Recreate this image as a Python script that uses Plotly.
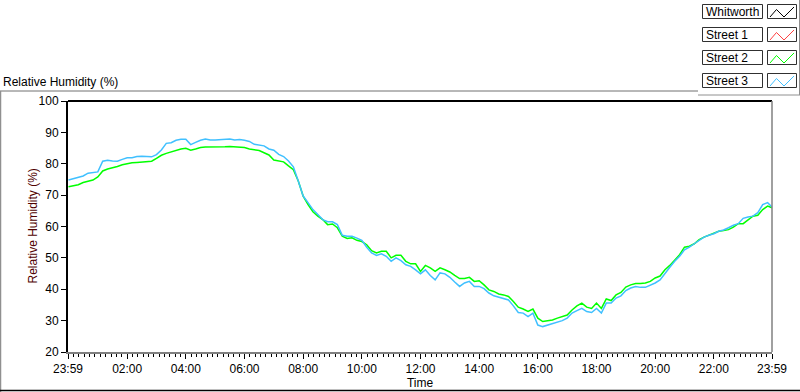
import pandas as pd
import plotly.graph_objects as go

# ---- data -------------------------------------------------------------
series_names = ["Whitworth", "Street 1", "Street 2", "Street 3"]
series_colors = ["#000000", "#ff4040", "#00ff00", "#40c0ff"]

# sample times: every 10 minutes from 00:00, plus the final 23:59 sample
sample_times = list(pd.date_range("2021-06-02 00:00", "2021-06-02 23:50", freq="10min")) + [pd.Timestamp("2021-06-02 23:59")]

whitworth = []
street_1 = []
street_2 = [
    72.7, 72.9, 73.3, 74.0, 74.4, 74.8, 75.8, 77.7, 78.3, 78.6,
    79.1, 79.7, 80.1, 80.3, 80.4, 80.5, 80.6, 80.8, 81.7, 82.7,
    83.3, 83.8, 84.2, 84.7, 84.9, 84.3, 84.7, 85.2, 85.3, 85.3,
    85.4, 85.2, 85.4, 85.5, 85.4, 85.3, 85.2, 84.7, 84.4, 84.2,
    83.5, 82.8, 81.2, 80.9, 80.6, 79.3, 78.1, 74.5, 69.7, 67.0,
    64.7, 63.3, 62.2, 60.6, 60.8, 59.6, 56.9, 56.2, 56.4, 55.6,
    55.2, 54.2, 52.3, 51.6, 52.1, 52.1, 50.0, 50.8, 50.8, 48.9,
    48.1, 48.1, 45.7, 47.6, 46.8, 45.7, 46.8, 46.2, 45.5, 44.4,
    43.4, 43.4, 43.8, 42.5, 42.7, 41.4, 39.8, 39.3, 38.5, 38.2,
    37.7, 36.1, 34.3, 33.7, 32.9, 33.7, 30.8, 29.7, 30.0, 30.2,
    30.8, 31.3, 31.8, 33.4, 34.7, 35.6, 34.3, 33.9, 35.6, 33.9,
    36.9, 36.4, 38.2, 39.0, 40.7, 41.4, 41.8, 41.8, 42.0, 42.5,
    43.6, 44.2, 46.2, 47.6, 49.4, 51.0, 53.4, 53.7, 54.5, 55.8,
    56.6, 57.2, 57.7, 58.5, 58.7, 59.0, 59.8, 60.9, 60.9, 62.2,
    63.3, 63.6, 65.4, 66.5, 66.0,
]
street_3 = [
    74.8, 75.3, 75.8, 76.1, 77.0, 77.2, 77.4, 80.8, 81.1, 80.9,
    80.8, 81.4, 81.9, 81.9, 82.3, 82.4, 82.2, 82.2, 82.9, 84.4,
    86.5, 86.7, 87.5, 87.8, 87.8, 86.1, 86.8, 87.5, 87.9, 87.6,
    87.6, 87.7, 87.7, 87.9, 87.6, 87.7, 87.5, 87.1, 86.2, 86.0,
    85.7, 84.7, 84.3, 83.0, 82.3, 80.9, 79.0, 74.5, 69.7, 67.6,
    65.4, 63.8, 62.2, 61.5, 61.5, 60.6, 57.2, 56.9, 56.9, 56.3,
    55.6, 53.4, 51.6, 50.8, 51.3, 50.5, 48.9, 50.0, 49.1, 47.8,
    47.3, 46.2, 44.9, 46.2, 44.4, 43.0, 45.2, 44.9, 43.8, 42.3,
    40.9, 42.0, 42.5, 40.9, 40.9, 40.2, 38.8, 37.9, 37.5, 37.2,
    36.6, 34.7, 32.6, 32.4, 31.3, 32.4, 28.6, 28.1, 28.6, 28.9,
    29.4, 30.0, 30.8, 32.4, 33.2, 33.9, 32.9, 32.6, 33.9, 32.4,
    35.6, 35.6, 37.2, 37.9, 39.6, 40.4, 40.9, 40.6, 40.6, 41.2,
    42.0, 43.0, 45.2, 47.0, 48.9, 50.5, 52.6, 53.4, 54.5, 55.5,
    56.6, 57.2, 57.7, 58.5, 58.9, 59.6, 60.4, 60.9, 62.6, 63.0,
    63.3, 64.4, 67.0, 67.6, 66.2,
]

x_start = "2021-06-01 23:59"
x_end = "2021-06-02 23:59"
x_tick_vals = ["2021-06-01 23:59", "2021-06-02 02:00", "2021-06-02 04:00", "2021-06-02 06:00",
               "2021-06-02 08:00", "2021-06-02 10:00", "2021-06-02 12:00", "2021-06-02 14:00",
               "2021-06-02 16:00", "2021-06-02 18:00", "2021-06-02 20:00", "2021-06-02 22:00",
               "2021-06-02 23:59"]
x_tick_text = ["23:59", "02:00", "04:00", "06:00", "08:00", "10:00", "12:00", "14:00",
               "16:00", "18:00", "20:00", "22:00", "23:59"]
minor_per_major = 10
y_tick_vals = [20, 30, 40, 50, 60, 70, 80, 90, 100]

# minor ticks: evenly divide each major interval
_maj = [pd.Timestamp(v) for v in x_tick_vals]
x_minor_vals = []
for a, b in zip(_maj[:-1], _maj[1:]):
    step = (b - a) / (minor_per_major + 1)
    for k in range(1, minor_per_major + 1):
        x_minor_vals.append(a + step * k)

# ---- geometry helpers (pixel -> paper) --------------------------------
W, H = 800, 392
L, R, T, B = 68, 28, 101, 40
PW, PH = W - L - R, H - T - B


def px(xp):
    return (xp - L) / PW


def py(yp):
    return (H - B - yp) / PH


FONT = "Liberation Sans"

fig = go.Figure()
all_series = [whitworth, street_1, street_2, street_3]
for name, color, vals in zip(series_names, series_colors, all_series):
    fig.add_trace(go.Scatter(
        x=sample_times[:len(vals)], y=vals, mode="lines", name=name,
        line=dict(color=color, width=1.5), showlegend=False, hoverinfo="skip",
    ))

shapes = []
annotations = []

# plot frame: black left/top, grey right/bottom
shapes.append(dict(type="line", xref="paper", yref="paper", x0=0, x1=1, y0=1, y1=1,
                   line=dict(color="#000000", width=2)))
shapes.append(dict(type="line", xref="paper", yref="paper", x0=1, x1=1, y0=0, y1=1,
                   line=dict(color="#808080", width=1.5)))

# outer window frame
shapes.append(dict(type="line", xref="paper", yref="paper", x0=px(0), x1=px(698), y0=py(91), y1=py(91),
                   line=dict(color="#707070", width=1)))
shapes.append(dict(type="line", xref="paper", yref="paper", x0=px(0.5), x1=px(0.5), y0=py(91), y1=py(392),
                   line=dict(color="#909090", width=1.5)))
shapes.append(dict(type="line", xref="paper", yref="paper", x0=px(0), x1=px(800), y0=py(390.5), y1=py(390.5),
                   line=dict(color="#000000", width=1.5)))
# legend panel frame
shapes.append(dict(type="line", xref="paper", yref="paper", x0=px(698), x1=px(800), y0=py(95), y1=py(95),
                   line=dict(color="#909090", width=1)))
shapes.append(dict(type="line", xref="paper", yref="paper", x0=px(799.5), x1=px(799.5), y0=py(0), y1=py(95),
                   line=dict(color="#909090", width=1)))

# legend entries
for i, (name, color) in enumerate(zip(series_names, series_colors)):
    top = 4.5 + i * 23
    bot = top + 14
    shapes.append(dict(type="rect", xref="paper", yref="paper", x0=px(702.5), x1=px(762.5),
                       y0=py(bot), y1=py(top), line=dict(color="#303030", width=1), fillcolor="white"))
    shapes.append(dict(type="rect", xref="paper", yref="paper", x0=px(767.5), x1=px(796.5),
                       y0=py(bot), y1=py(top), line=dict(color="#303030", width=1), fillcolor="white"))
    pts = [(770, top + 12.5), (776.5, top + 5), (784, top + 12.5), (794, top + 2.5)]
    path = "M " + " L ".join(f"{px(a):.5f},{py(b):.5f}" for a, b in pts)
    shapes.append(dict(type="path", xref="paper", yref="paper", path=path,
                       line=dict(color=color, width=1)))
    annotations.append(dict(text=name, xref="paper", yref="paper", x=px(704), y=py(top + 7.5),
                            xanchor="left", yanchor="middle", showarrow=False,
                            font=dict(family=FONT, size=12, color="#000000")))

# chart caption
annotations.append(dict(text="Relative Humidity (%)", xref="paper", yref="paper", x=px(1), y=py(82),
                        xanchor="left", yanchor="middle", showarrow=False,
                        font=dict(family=FONT, size=12, color="#000000")))
# y-axis title
annotations.append(dict(text="Relative Humidity (%)", xref="paper", yref="paper", x=px(32), y=0.5,
                        xanchor="center", yanchor="middle", textangle=-90, showarrow=False,
                        font=dict(family=FONT, size=12, color="#500000")))

fig.update_layout(
    width=W, height=H,
    margin=dict(l=L, r=R, t=T, b=B, pad=0, autoexpand=False),
    paper_bgcolor="white", plot_bgcolor="white",
    font=dict(family=FONT, size=12, color="#000000"),
    shapes=shapes, annotations=annotations, showlegend=False,
    xaxis=dict(
        type="date", range=[x_start, x_end], tickmode="array", automargin=False,
        tickvals=x_tick_vals, ticktext=x_tick_text,
        showgrid=False, zeroline=False, showline=True, linecolor="#808080", linewidth=1.5,
        ticks="outside", ticklen=5, tickcolor="#000000", tickwidth=1,
        minor=dict(tickmode="array", tickvals=x_minor_vals, ticks="outside", ticklen=3,
                   tickcolor="#000000", tickwidth=1, showgrid=False),
        title=dict(text="Time", standoff=2, font=dict(size=12)),
        tickfont=dict(size=12),
    ),
    yaxis=dict(
        range=[20, 100], tickmode="array", tickvals=y_tick_vals, automargin=False,
        showgrid=False, zeroline=False, showline=True, linecolor="#000000", linewidth=2,
        ticks="outside", ticklen=5, tickcolor="#000000", tickwidth=1,
        tickfont=dict(size=12),
    ),
)

fig.write_html("out.html", config={"displayModeBar": False, "staticPlot": True},
               post_script="document.body.style.margin='0px';")
